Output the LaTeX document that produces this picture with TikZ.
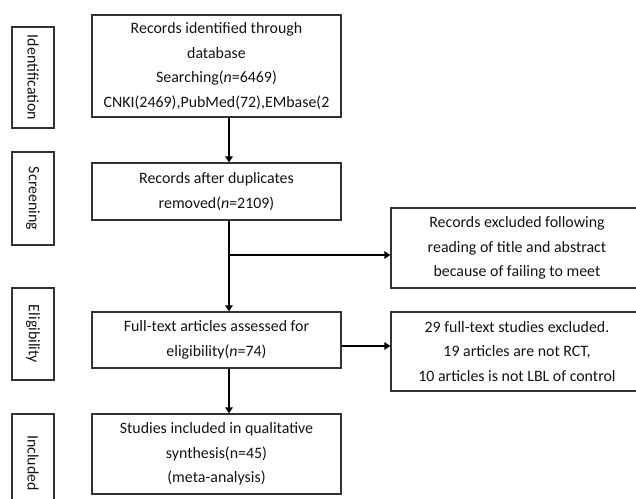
\documentclass[tikz,border=0pt]{standalone}
\usepackage{fontspec}
\setmainfont{Carlito}
\usetikzlibrary{arrows.meta}
\definecolor{Frame}{HTML}{333333}
\definecolor{Ink}{HTML}{141414}

\begin{document}
\begin{tikzpicture}[x=1pt,y=-1pt,font=\fontsize{15.9}{24.5}\selectfont,text=Ink,>={Triangle[length=6pt,width=7.5pt]},
  stagebox/.style={draw=Frame,line width=1.2pt,rotate=-90,minimum height=42pt,inner sep=2pt},
  flowbox/.style={draw=Frame,line width=1.2pt,align=center,minimum width=249pt,inner sep=2pt},
  sidebox/.style={draw=Frame,line width=1.2pt,align=center,minimum width=252pt,inner sep=2pt},
  link/.style={->,line width=1.2pt,black}]
\clip (0,0) rectangle (636,498);
\fill[white] (0,0) rectangle (636,498);
% stage labels on the left
\node[stagebox,minimum width=101pt] (ident) at (33,77.5){Identification};
\node[stagebox,minimum width=93pt] (screen) at (33,198.5){Screening};
\node[stagebox,minimum width=92pt] (elig) at (33,334){Eligibility};
\node[stagebox,minimum width=98pt] (incl) at (33,463){Included};
% main column
\node[flowbox,minimum height=102pt] (records) at (216.5,66){Records identified through\\database\\Searching(\textit{n}=6469)\\CNKI(2469),PubMed(72),EMbase(2};
\node[flowbox,minimum height=57pt] (screened) at (216.5,191.5){Records after duplicates\\removed(\textit{n}=2109)};
\node[flowbox,minimum height=56pt] (fulltext) at (216.5,340){Full-text articles assessed for\\eligibility(\textit{n}=74)};
\node[flowbox,minimum height=80pt] (included) at (216.5,454){Studies included in qualitative\\synthesis(n=45)\\(meta-analysis)};
% exclusions on the right
\node[sidebox,minimum height=80pt] (titleout) at (517,248){Records excluded following\\reading of title and abstract\\because of failing to meet};
\node[sidebox,minimum height=79pt] (studyout) at (517,351.5){29 full-text studies excluded.\\19 articles are not RCT,\\10 articles is not LBL of control};
% connectors
\coordinate (split) at (229,255);
\coordinate (side) at (341,346);
\draw[link] (split |- records.south) -- (split |- screened.north);
\draw[line width=1.2pt] (split |- screened.south) -- (split);
\draw[link] (split) -- (split -| titleout.west);
\draw[link] (split) -- (split |- fulltext.north);
\draw[link] (fulltext.east |- side) -- (studyout.west |- side);
\draw[link] (split |- fulltext.south) -- (split |- included.north);
\end{tikzpicture}
\end{document}
